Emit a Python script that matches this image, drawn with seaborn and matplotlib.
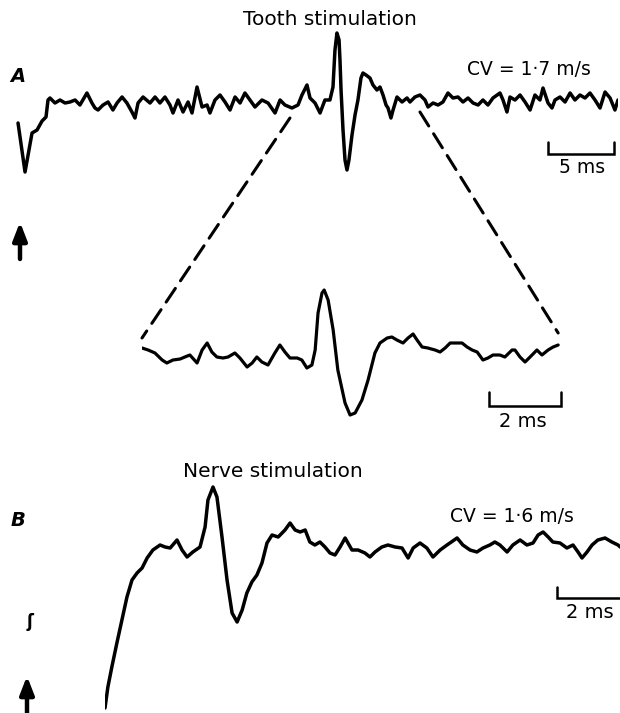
import numpy as np
import pandas as pd
import matplotlib
matplotlib.use("Agg")
import matplotlib.pyplot as plt
from matplotlib.patches import ConnectionPatch
import seaborn as sns

# ---------------- data (time in ms, amplitude in arbitrary units) ----------------
# A: tooth stimulation, slow sweep
tA = [0.23, 0.76, 1.29, 1.67, 2.05, 2.35, 2.50, 2.65, 3.03, 3.41, 3.79, 4.17, 4.55, 4.92,
      5.45, 5.83, 6.06, 6.29, 6.67, 7.05, 7.42, 7.73, 8.11, 8.48, 8.86, 9.09, 9.32, 9.70,
      10.23, 10.61, 10.98, 11.36, 11.74, 11.97, 12.35, 12.73, 13.11, 13.41, 13.79, 14.17,
      14.55, 14.77, 15.15, 15.53, 15.91, 16.29, 16.67, 17.05, 17.42, 17.80, 18.18, 18.71,
      19.17, 19.70, 20.08, 20.45, 20.98, 21.44, 21.74, 22.12, 22.35, 22.73, 23.11, 23.48,
      23.86, 24.09, 24.24, 24.39, 24.55, 24.62, 24.70, 24.85, 25.00, 25.15, 25.30, 25.53,
      25.76, 25.98, 26.21, 26.36, 26.59, 26.89, 27.12, 27.42, 27.65, 27.88, 28.11, 28.26,
      28.48, 28.64, 28.94, 29.32, 29.70, 29.92, 30.30, 30.68, 31.06, 31.29, 31.67, 32.05,
      32.42, 32.80, 33.18, 33.56, 33.94, 34.32, 34.70, 35.08, 35.45, 35.83, 36.21, 36.74,
      36.97, 37.27, 37.50, 37.88, 38.26, 38.64, 39.02, 39.39, 39.77, 40.00, 40.38, 40.68,
      40.91, 41.29, 41.67, 42.05, 42.42, 42.80, 43.18, 43.56, 43.94, 44.32, 44.70, 45.08,
      45.45, 45.68]
vA = [-20, -69, -30, -27, -18, -14, 3, 5, 0, 3, 0, 1, 3, -2,
      10, 0, -5, -7, -2, 1, -7, 0, 6, 0, -9, -15, 0, 6,
      0, 6, 0, 6, -2, -10, 3, -9, 1, -10, 16, -4,
      -2, -10, 3, 8, 1, -7, 6, 0, 10, 3, -4, 3,
      0, -10, 3, -2, -5, -2, 8, 18, 5, 0, -10, 3,
      3, 16, 53, 70, 63, 43, 13, -27, -57, -67, -57, -32,
      -12, 3, 25, 30, 28, 25, 18, 13, 16, 8, -2, -5,
      -15, -7, 6, 1, 5, 1, 6, 8, 3, -4, 0, -2,
      1, 10, 5, 6, 1, 5, 0, -2, 3, -2, 5, 10,
      3, -9, 6, 3, 8, 1, -7, 8, 3, 15, 0, -5,
      3, 6, 1, 10, 3, 8, 5, 10, 3, -5, 11, 5,
      -7, 3]

# A, expanded sweep
tE = [0.00, 0.17, 0.36, 0.56, 0.69, 0.86, 1.06, 1.19, 1.33, 1.53, 1.67, 1.81, 1.94, 2.08,
      2.25, 2.39, 2.58, 2.72, 2.92, 3.06, 3.19, 3.33, 3.50, 3.69, 3.83, 3.97, 4.11, 4.31,
      4.44, 4.58, 4.72, 4.81, 4.89, 5.00, 5.06, 5.17, 5.31, 5.44, 5.64, 5.78, 5.92, 6.11,
      6.28, 6.47, 6.61, 6.81, 6.94, 7.08, 7.25, 7.39, 7.53, 7.64, 7.78, 7.94, 8.14, 8.28,
      8.42, 8.56, 8.69, 8.89, 9.03, 9.17, 9.31, 9.47, 9.61, 9.75, 9.94, 10.08, 10.28, 10.36,
      10.50, 10.64, 10.78, 10.97, 11.11, 11.28, 11.42, 11.56]
vE = [7, 5, 2, -5, -8, -5, -4, -2, 0, -8, 5, 12, 3, -2,
      -3, -2, 2, -3, -12, -8, -2, -7, -10, 2, 10, 3, -3, -3,
      -5, -13, -10, 5, 42, 62, 65, 55, 25, -15, -48, -60, -58, -45,
      -25, 2, 12, 17, 18, 15, 12, 17, 21, 15, 8, 7, 5, 3,
      7, 12, 12, 12, 8, 5, 3, -5, -3, 0, 0, -2, 5, 5,
      -2, -7, -2, 5, 0, 5, 8, 10]

# B: nerve stimulation
tB = [0.00, 0.08, 0.19, 0.33, 0.47, 0.61, 0.75, 0.89, 1.03, 1.17, 1.33, 1.53, 1.67, 1.81,
      2.00, 2.14, 2.28, 2.44, 2.64, 2.78, 2.86, 3.00, 3.11, 3.25, 3.39, 3.53, 3.67, 3.81,
      3.94, 4.08, 4.22, 4.36, 4.50, 4.64, 4.81, 5.00, 5.14, 5.28, 5.42, 5.56, 5.69, 5.83,
      5.97, 6.11, 6.25, 6.39, 6.53, 6.67, 6.86, 7.03, 7.22, 7.36, 7.50, 7.69, 7.86, 8.06,
      8.25, 8.42, 8.56, 8.75, 8.94, 9.11, 9.31, 9.50, 9.78, 9.94, 10.14, 10.33, 10.50, 10.69,
      10.83, 10.97, 11.17, 11.33, 11.53, 11.72, 11.89, 12.03, 12.17, 12.31, 12.44, 12.64,
      12.83, 13.00, 13.14, 13.25, 13.39, 13.53, 13.69, 13.89, 14.08, 14.25, 14.31]
vB = [-158, -137, -117, -93, -70, -47, -30, -23, -18, -8, 0, 5, 3, 2,
      10, 0, -7, -2, 3, 23, 50, 63, 53, 13, -30, -63, -72, -60,
      -43, -32, -25, -13, 7, 15, 13, 20, 27, 20, 18, 20, 8, 5,
      8, 3, -3, -5, 3, 12, 0, 0, -3, -7, -2, 3, 5, 3,
      2, -8, 2, 7, 2, -7, 0, 5, 12, 5, 0, -2, 2, 5,
      8, 5, -2, 5, 10, 5, 7, 15, 18, 13, 8, 7,
      2, 5, -2, -8, -2, 5, 10, 12, 8, 5, 3]

title_A = "Tooth stimulation"
title_B = "Nerve stimulation"
cv_A = "CV = 1\u00b77 m/s"
cv_B = "CV = 1\u00b76 m/s"
bar_A_ms = 5
bar_E_ms = 2
bar_B_ms = 2

# ---------------- figure ----------------
sns.set_theme(style="white")
plt.rcParams["font.family"] = ["DejaVu Sans"]
plt.rcParams["text.color"] = "black"

W, H = 620, 713
fig = plt.figure(figsize=(W / 100, H / 100), dpi=100)
fig.patch.set_facecolor("white")


def px_axes(x0, x1, y0, y1):
    ax = fig.add_axes([x0 / W, 1 - y1 / H, (x1 - x0) / W, (y1 - y0) / H])
    ax.set_axis_off()
    ax.patch.set_alpha(0)
    return ax


LW = 2.5
TXT = 13.5
line_kw = dict(color="black", sort=False, estimator=None,
               solid_joinstyle="round", solid_capstyle="round")

# trace A (13.2 px per ms)
axA = px_axes(15, 15 + 45.7 * 13.2, 25, 180)
sns.lineplot(x=tA, y=vA, ax=axA, lw=LW, **line_kw)
axA.set_xlim(0, 45.7)
axA.set_ylim(-77, 78)

# expanded trace (36 px per ms)
axE = px_axes(142, 142 + 11.7 * 36, 280, 430)
sns.lineplot(x=tE, y=vE, ax=axE, lw=2.3, **line_kw)
axE.set_xlim(0, 11.7)
axE.set_ylim(-75, 75)

# trace B (36 px per ms)
axB = px_axes(105, 105 + 14.33 * 36, 470, 713)
sns.lineplot(x=tB, y=vB, ax=axB, lw=LW, **line_kw)
axB.set_xlim(0, 14.33)
axB.set_ylim(-163, 80)

for a in (axA, axE, axB):
    leg = a.get_legend()
    if leg is not None:
        leg.remove()


def scale_bar(ax, t0, length, v_top, v_bot, label, v_text, t_text=None, size=TXT):
    ax.plot([t0, t0, t0 + length, t0 + length], [v_top, v_bot, v_bot, v_top],
            color="black", lw=1.8, clip_on=False, solid_joinstyle="miter")
    if t_text is None:
        t_text = t0 + length / 2
    ax.text(t_text, v_text, label, ha="center", va="baseline", fontsize=size,
            color="black", clip_on=False)


scale_bar(axA, 40.35, bar_A_ms, -39, -51, f"{bar_A_ms} ms", -70, 42.95)
scale_bar(axE, 9.64, bar_E_ms, -37, -51, f"{bar_E_ms} ms", -72, 10.58, 14)
scale_bar(axB, 12.56, bar_B_ms, -37, -48, f"{bar_B_ms} ms", -68, 13.47, 14)

# dashed connectors from slow sweep to expanded sweep
dash = (0, (5.4, 3.0))
for (ta, va), (te, ve) in [((20.83, -15), (0.0, 17)), ((30.68, -9), (11.56, 22))]:
    con = ConnectionPatch(xyA=(ta, va), coordsA=axA.transData,
                          xyB=(te, ve), coordsB=axE.transData,
                          color="black", lw=2.2, linestyle=dash)
    fig.add_artist(con)

# overlay for labels and markers (pixel layout)
ov = fig.add_axes([0, 0, 1, 1])
ov.set_axis_off()
ov.patch.set_alpha(0)
ov.set_xlim(0, W)
ov.set_ylim(H, 0)

ov.text(330, 25, title_A, ha="center", va="baseline", fontsize=14.5)
ov.text(273, 477, title_B, ha="center", va="baseline", fontsize=14.5)
ov.text(529, 75, cv_A, ha="center", va="baseline", fontsize=TXT)
ov.text(512, 522, cv_B, ha="center", va="baseline", fontsize=TXT)
ov.text(18, 82, "A", ha="center", va="baseline", fontsize=14, style="italic", weight="bold")
ov.text(18, 526, "B", ha="center", va="baseline", fontsize=14, style="italic", weight="bold")

arrow_kw = dict(arrowstyle="-|>,head_length=0.9,head_width=0.35", color="black", lw=3.2,
                shrinkA=0, shrinkB=0)
ov.annotate("", xy=(20, 222), xytext=(20, 259), arrowprops=arrow_kw)
ov.annotate("", xy=(27, 676), xytext=(27, 714), arrowprops=arrow_kw, annotation_clip=False)
ov.text(30, 622, "\u0283", ha="center", va="center", fontsize=12, weight="bold",
        family=["DejaVu Sans"])

fig.savefig("out.png", dpi=100, facecolor="white")
